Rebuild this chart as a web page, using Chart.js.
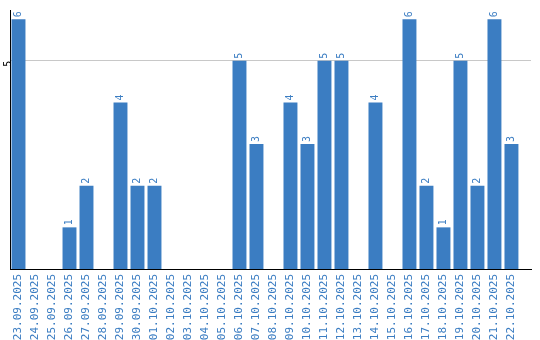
<!DOCTYPE html>
<html>
<head>
<meta charset="utf-8">
<script src="https://cdn.jsdelivr.net/npm/chart.js@4/dist/chart.umd.min.js"></script>
<style>
   html, body { margin: 0; padding: 0; background: #fff; }
   #wrap { width: 540px; height: 340px; }
</style>
</head>
<body>
<div id="wrap"><canvas id="myChart"></canvas></div>
<script>
// ==========================================
// Data
// ==========================================

const days = [
   "23.09.2025", "24.09.2025", "25.09.2025", "26.09.2025", "27.09.2025", "28.09.2025",
   "29.09.2025", "30.09.2025", "01.10.2025", "02.10.2025", "03.10.2025", "04.10.2025",
   "05.10.2025", "06.10.2025", "07.10.2025", "08.10.2025", "09.10.2025", "10.10.2025",
   "11.10.2025", "12.10.2025", "13.10.2025", "14.10.2025", "15.10.2025", "16.10.2025",
   "17.10.2025", "18.10.2025", "19.10.2025", "20.10.2025", "21.10.2025", "22.10.2025"
];
const counts = [6, 0, 0, 1, 2, 0, 4, 2, 2, 0, 0, 0, 0, 5, 3, 0, 4, 3, 5, 5, 0, 4, 0, 6, 2, 1, 5, 2, 6, 3];
const yTicks = [5];

const blue = "#3b7dc2";
const font = { family: "DejaVu Sans Mono", size: 10 };

// ==========================================
// Value labels above bars (rotated)
// ==========================================

const barValues = {
   id: "barValues",
   afterDatasetsDraw(chart) {
      const ctx = chart.ctx;
      const meta = chart.getDatasetMeta(0);
      ctx.save();
      ctx.fillStyle = blue;
      ctx.font = font.size + "px " + font.family;
      ctx.textAlign = "left";
      ctx.textBaseline = "middle";
      meta.data.forEach((bar, i) => {
         if (!counts[i]) return;
         ctx.save();
         ctx.translate(bar.x, bar.y - 2);
         ctx.rotate(-Math.PI / 2);
         ctx.fillText(String(counts[i]), 0, 0);
         ctx.restore();
      });
      ctx.restore();
   }
};

// ==========================================
// Chart
// ==========================================

new Chart(document.getElementById("myChart"), {
   type: "bar",
   data: {
      labels: days,
      datasets: [{
         data: counts,
         backgroundColor: blue,
         barPercentage: 0.82,
         categoryPercentage: 1
      }]
   },
   options: {
      responsive: true,
      maintainAspectRatio: false,
      animation: false,
      layout: { padding: { top: 10, right: 9, left: 0, bottom: 0 } },
      plugins: { legend: { display: false }, tooltip: { enabled: false } },
      scales: {
         x: {
            grid: { display: false, drawTicks: false },
            border: { color: "#000", width: 1 },
            ticks: {
               color: blue, font: { family: font.family, size: 11 }, autoSkip: false,
               minRotation: 90, maxRotation: 90, padding: 5
            },
            // axis runs a bit past the last day
            afterBuildTicks: s => { s._valueRange = 30.65; },
            afterFit: s => { s.height = 71; }
         },
         y: {
            min: 0,
            max: 6.22,
            afterBuildTicks: s => { s.ticks = yTicks.map(v => ({ value: v })); },
            grid: { color: "#c8c8c8", drawTicks: false },
            border: { color: "#000", width: 1 },
            ticks: { color: "#000", font: font, minRotation: 90, maxRotation: 90, padding: 2 },
            afterFit: s => { s.width = 10; }
         }
      }
   },
   plugins: [barValues]
});
</script>
</body>
</html>
